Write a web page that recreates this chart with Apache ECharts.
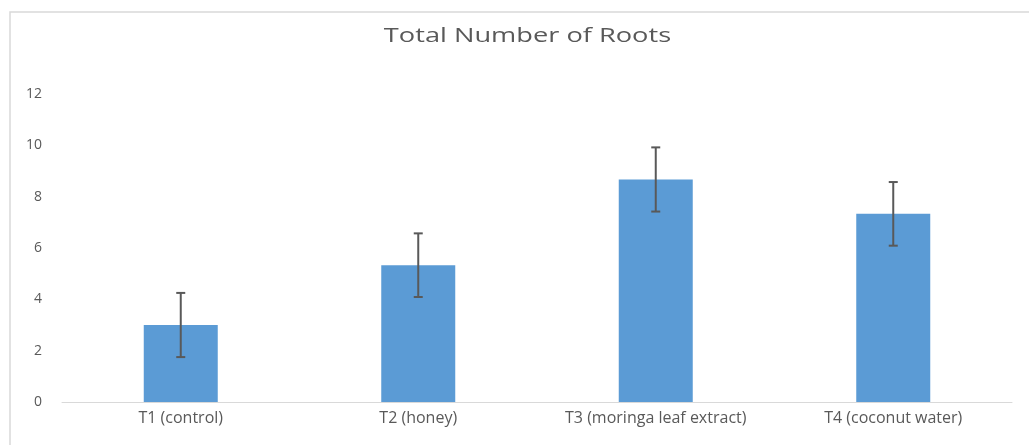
<!DOCTYPE html>
<html>
<head>
<meta charset="utf-8">
<script src="https://cdn.jsdelivr.net/npm/echarts@6/dist/echarts.min.js"></script>
<style>
html,body{margin:0;padding:0;background:#fff;}
#chart{width:1029px;height:445px;}
</style>
</head>
<body>
<div id="chart"></div>
<script>
const categories = ['T1 (control)', 'T2 (honey)', 'T3 (moringa leaf extract)', 'T4 (coconut water)'];
const meanRoots = [3.0, 5.33, 8.67, 7.33];
const errRoots = [1.25, 1.24, 1.25, 1.24];
const yTicks = [0, 2, 4, 6, 8, 10, 12];
const chartTitle = 'Total Number of Roots';

const chart = echarts.init(document.getElementById('chart'));
const font = '"Open Sans", sans-serif';

chart.setOption({
  animation: false,
  backgroundColor: '#ffffff',
  graphic: [{
    type: 'rect',
    shape: { x: 10, y: 12, width: 1060, height: 500 },
    style: { fill: 'none', stroke: '#d9d9d9', lineWidth: 1.5 },
    silent: true
  }, {
    type: 'text',
    x: 527.5,
    y: 36,
    scaleX: 1.36,
    style: {
      text: chartTitle,
      fontFamily: font,
      fontSize: 20,
      fill: '#595959',
      align: 'center',
      verticalAlign: 'middle'
    },
    silent: true
  }],
  grid: { left: 62, right: 17, top: 94, bottom: 43, containLabel: false },
  xAxis: {
    type: 'category',
    data: categories,
    axisLine: { lineStyle: { color: '#d9d9d9', width: 1 } },
    axisTick: { show: false },
    axisLabel: { fontFamily: font, fontSize: 16, color: '#595959', margin: 8 }
  },
  yAxis: {
    type: 'value',
    min: yTicks[0],
    max: yTicks[yTicks.length - 1],
    interval: 2,
    splitLine: { show: false },
    axisLine: { show: false },
    axisTick: { show: false },
    axisLabel: { fontFamily: font, fontSize: 14, color: '#595959', margin: 20 }
  },
  series: [{
    type: 'bar',
    data: meanRoots,
    barWidth: 74,
    itemStyle: { color: '#5b9bd5' },
    z: 2
  }, {
    type: 'custom',
    data: meanRoots.map((v, i) => [i, v - errRoots[i], v + errRoots[i]]),
    z: 5,
    renderItem: function (params, api) {
      const lo = api.coord([api.value(0), api.value(1)]);
      const hi = api.coord([api.value(0), api.value(2)]);
      const x = lo[0];
      const hw = 4.5;
      const st = { stroke: '#595959', lineWidth: 2 };
      return {
        type: 'group',
        children: [
          { type: 'line', shape: { x1: x, y1: hi[1], x2: x, y2: lo[1] }, style: st },
          { type: 'line', shape: { x1: x - hw, y1: hi[1], x2: x + hw, y2: hi[1] }, style: st },
          { type: 'line', shape: { x1: x - hw, y1: lo[1], x2: x + hw, y2: lo[1] }, style: st }
        ]
      };
    }
  }]
});
</script>
</body>
</html>
